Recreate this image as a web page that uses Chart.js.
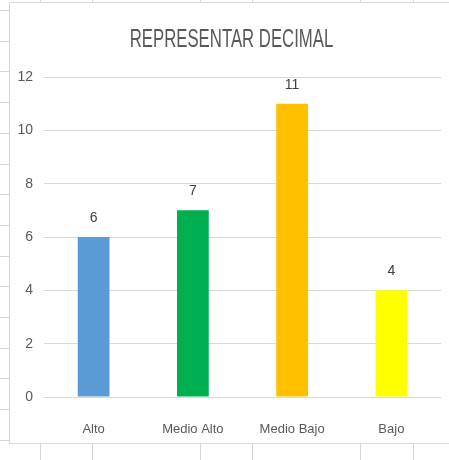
<!DOCTYPE html>
<html>
<head>
<meta charset="utf-8">
<script src="https://cdn.jsdelivr.net/npm/chart.js@4"></script>
<style>
    html, body { margin: 0; padding: 0; background: #fff; }
    #wrap { width: 449px; height: 460px; }
</style>
</head>
<body>
<div id="wrap"><canvas id="nivelChart" width="449" height="460"></canvas></div>
<script>
// chart data
const chartTitle = 'REPRESENTAR DECIMAL';
const categories = ['Alto', 'Medio Alto', 'Medio Bajo', 'Bajo'];
const counts = [6, 7, 11, 4];
const barColors = ['#5B9BD5', '#00B050', '#FFC000', '#FFFF00'];
const yTicks = [0, 2, 4, 6, 8, 10, 12];

const FONT = '"Liberation Sans", Arial, sans-serif';
const TEXT = '#595959';

// spreadsheet cells behind the chart object + the white chart box
const sheetBackground = {
    id: 'sheetBackground',
    beforeDraw(chart) {
        const ctx = chart.ctx;
        ctx.save();
        ctx.fillStyle = '#fff';
        ctx.fillRect(0, 0, chart.width, chart.height);
        ctx.strokeStyle = '#d4d4d4';
        ctx.lineWidth = 1;
        [40, 92, 200, 252, 360, 413].forEach(x => {
            ctx.beginPath();
            ctx.moveTo(x + 0.5, 0);
            ctx.lineTo(x + 0.5, chart.height);
            ctx.stroke();
        });
        for (let y = 10; y < chart.height; y += 30.7) {
            ctx.beginPath();
            ctx.moveTo(0, Math.round(y) + 0.5);
            ctx.lineTo(chart.width, Math.round(y) + 0.5);
            ctx.stroke();
        }
        // chart object
        ctx.fillStyle = '#fff';
        ctx.fillRect(9, 2, chart.width, 442);
        ctx.strokeStyle = '#d9d9d9';
        ctx.strokeRect(9.5, 2.5, chart.width, 441);
        ctx.restore();
    }
};

// Excel style title: tall, narrow letters
const condensedTitle = {
    id: 'condensedTitle',
    afterDraw(chart) {
        const ctx = chart.ctx;
        ctx.save();
        ctx.font = '25px ' + FONT;
        ctx.fillStyle = TEXT;
        ctx.textAlign = 'center';
        ctx.textBaseline = 'alphabetic';
        ctx.translate(231.5, 46.5);
        ctx.scale(0.67, 1);
        ctx.fillText(chartTitle, 0, 0);
        ctx.restore();
    }
};

// value labels above each bar
const barValues = {
    id: 'barValues',
    afterDatasetsDraw(chart) {
        const ctx = chart.ctx;
        const meta = chart.getDatasetMeta(0);
        ctx.save();
        ctx.font = '14px ' + FONT;
        ctx.fillStyle = '#404040';
        ctx.textAlign = 'center';
        ctx.textBaseline = 'middle';
        meta.data.forEach((bar, i) => {
            ctx.fillText(String(counts[i]), bar.x, bar.y - 19);
        });
        ctx.restore();
    }
};

const ctx = document.getElementById('nivelChart').getContext('2d');

new Chart(ctx, {
    type: 'bar',
    data: {
        labels: categories,
        datasets: [{
            data: counts,
            backgroundColor: barColors,
            borderWidth: 0,
            barPercentage: 0.32,
            categoryPercentage: 1
        }]
    },
    options: {
        responsive: false,
        animation: false,
        layout: { padding: { left: 10, right: 8, top: 77, bottom: 0 } },
        plugins: {
            legend: { display: false },
            tooltip: { enabled: false },
            title: { display: false }
        },
        scales: {
            x: {
                grid: { display: false },
                border: { display: false },
                ticks: { color: TEXT, font: { family: FONT, size: 13 }, padding: 17 },
                afterFit(scale) { scale.height = 63; }
            },
            y: {
                min: 0,
                max: 12,
                afterBuildTicks(scale) { scale.ticks = yTicks.map(v => ({ value: v })); },
                grid: { color: '#d9d9d9', drawTicks: false },
                border: { display: false },
                ticks: { color: TEXT, font: { family: FONT, size: 14 }, padding: 11 },
                afterFit(scale) { scale.width = 34; }
            }
        }
    },
    plugins: [sheetBackground, condensedTitle, barValues]
});
</script>
</body>
</html>
